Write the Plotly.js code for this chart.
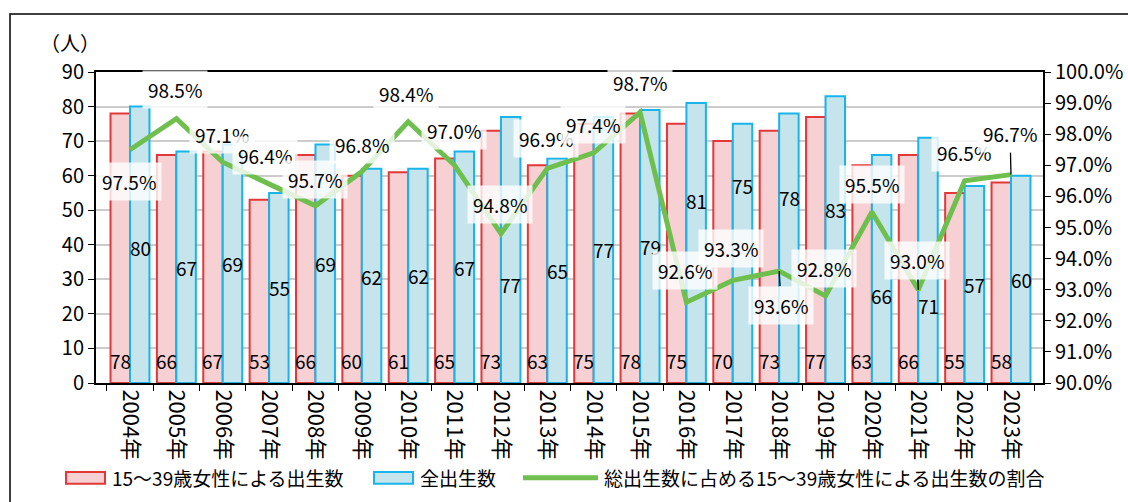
<!DOCTYPE html>
<html>
<head>
<meta charset="utf-8">
<script src="https://cdn.plot.ly/plotly-3.0.1.min.js"></script>
<style>
html,body{margin:0;padding:0;background:#fff;}
#chart{width:1128px;height:502px;}
</style>
</head>
<body>
<div id="chart"></div>
<script>
// ---- data ----
const years = ["2004年","2005年","2006年","2007年","2008年","2009年","2010年","2011年","2012年","2013年",
               "2014年","2015年","2016年","2017年","2018年","2019年","2020年","2021年","2022年","2023年"];
const birthsWomen15to39 = [78,66,67,53,66,60,61,65,73,63,75,78,75,70,73,77,63,66,55,58];
const birthsTotal = [80,67,69,55,69,62,62,67,77,65,77,79,81,75,78,83,66,71,57,60];
const sharePct = [97.5,98.5,97.1,96.4,95.7,96.8,98.4,97.0,94.8,96.9,97.4,98.7,92.6,93.3,93.6,92.8,95.5,93.0,96.5,96.7];

const seriesNames = ["15～39歳女性による出生数","全出生数","総出生数に占める15～39歳女性による出生数の割合"];
const yUnitLabel = "（人）";

// ---- label placement (layout only, pixels) ----
const pctLabelDy = [32,-29,-28,-28,-26,-27,-28,-35,-29,-30,-28,-30,-32,-32,34,-27,-27,-29,-28,-41];
const pctLabelDx = [-1,-1,-1,-4,0,0,-2,-1,-1,-1,-1,0,-1,-2,2,-2,0,-1,-1,-1];
const pctLeader  = [false,false,false,false,false,false,false,false,false,false,false,false,false,false,true,false,false,true,false,true];
const totalLabelShift = [-3,0,0,0,0,-1,0,0,-35,0,0,0,43,68,51,30,-27,-45,0,0];

const FONT = '"Noto Sans CJK JP", "Noto Sans", sans-serif';
const PINK_FILL = '#f6d0d2', PINK_LINE = '#e2383a';
const BLUE_FILL = '#c6e4ec', BLUE_LINE = '#18b4ea';
const GREEN = '#6fbf4f';
const BAR_HALF = 10;

const traces = [
  {
    type:'bar', name:seriesNames[0], x:years, y:birthsWomen15to39,
    marker:{color:PINK_FILL, line:{color:PINK_LINE, width:2}},
    hoverinfo:'skip', showlegend:false
  },
  {
    type:'bar', name:seriesNames[1], x:years, y:birthsTotal,
    marker:{color:BLUE_FILL, line:{color:BLUE_LINE, width:2}},
    hoverinfo:'skip', showlegend:false
  },
  {
    type:'scatter', mode:'lines', name:seriesNames[2], x:years, y:sharePct, yaxis:'y2',
    line:{color:GREEN, width:5}, hoverinfo:'skip', showlegend:false
  }
];

const annotations = [];

// bar value labels
birthsWomen15to39.forEach((v,i)=>{
  annotations.push({x:years[i], y:0, xref:'x', yref:'y', text:String(v), showarrow:false,
    xshift:-BAR_HALF, yshift:23, yanchor:'middle', xanchor:'center',
    font:{family:FONT, size:19, color:'#000'}});
});
birthsTotal.forEach((v,i)=>{
  annotations.push({x:years[i], y:v/2, xref:'x', yref:'y', text:String(v), showarrow:false,
    xshift:BAR_HALF, yshift:totalLabelShift[i], yanchor:'middle', xanchor:'center',
    font:{family:FONT, size:19, color:'#000'}});
});

// percentage labels
sharePct.forEach((v,i)=>{
  annotations.push({
    x:years[i], y:v, xref:'x', yref:'y2',
    text:v.toFixed(1)+'%', showarrow:true, arrowhead:0, arrowwidth:1.3,
    arrowcolor: pctLeader[i] ? '#000' : 'rgba(0,0,0,0)',
    ax:pctLabelDx[i], ay:pctLabelDy[i], standoff:0,
    bgcolor:'rgba(255,255,255,0.8)', borderpad:5,
    font:{family:FONT, size:19, color:'#000'}
  });
});

annotations.push({
  xref:'paper', yref:'paper', x:-0.0275, y:1.096, xanchor:'center', yanchor:'middle',
  text:yUnitLabel, showarrow:false, font:{family:FONT, size:20, color:'#000'}
});

// custom legend
const legY = -0.305;
function px2x(p){ return (p-96)/947; }
const shapes = [
  {type:'rect', xref:'paper', yref:'paper', x0:-0.0908, x1:1.2, y0:-0.39, y1:1.1865,
   line:{color:'#000', width:1.5}, fillcolor:'rgba(0,0,0,0)', layer:'below'},
  {type:'rect', xref:'paper', yref:'paper', x0:px2x(66), x1:px2x(105), y0:legY-0.019, y1:legY+0.019,
   line:{color:PINK_LINE, width:2}, fillcolor:PINK_FILL},
  {type:'rect', xref:'paper', yref:'paper', x0:px2x(374), x1:px2x(413), y0:legY-0.019, y1:legY+0.019,
   line:{color:BLUE_LINE, width:2}, fillcolor:BLUE_FILL},
  {type:'line', xref:'paper', yref:'paper', x0:px2x(523), x1:px2x(598), y0:legY, y1:legY,
   line:{color:GREEN, width:5}}
];
[[110,seriesNames[0]],[418,seriesNames[1]],[602,seriesNames[2]]].forEach(([p,t])=>{
  annotations.push({xref:'paper', yref:'paper', x:px2x(p), y:legY, xanchor:'left', yanchor:'middle',
    text:t, showarrow:false, font:{family:FONT, size:19, color:'#000'}});
});

const layout = {
  width:1128, height:502,
  margin:{l:96, r:85, t:72, b:119},
  paper_bgcolor:'#fff', plot_bgcolor:'#fff',
  barmode:'group', bargap:0.16, bargroupgap:0,
  font:{family:FONT, color:'#000'},
  showlegend:false,
  xaxis:{
    type:'category', tickangle:90, tickson:'boundaries', ticks:'outside', ticklen:6, tickcolor:'#000',
    showline:true, linecolor:'#000', linewidth:2, mirror:true, showgrid:false,
    tickfont:{family:FONT, size:22, color:'#000'}, fixedrange:true
  },
  yaxis:{
    range:[0,90], dtick:10, ticks:'outside', ticklen:6, tickcolor:'#000',
    showline:true, linecolor:'#000', linewidth:2, showgrid:true, gridcolor:'#cccccc', gridwidth:2,
    zeroline:false, tickfont:{family:FONT, size:20, color:'#000'}, fixedrange:true
  },
  yaxis2:{
    overlaying:'y', side:'right', range:[90,100], dtick:1, tickformat:'.1f', ticksuffix:'%',
    ticks:'outside', ticklen:6, tickcolor:'#000', showline:true, linecolor:'#000', linewidth:2,
    showgrid:false, zeroline:false, tickfont:{family:FONT, size:20, color:'#000'}, fixedrange:true
  },
  annotations:annotations,
  shapes:shapes
};

Plotly.newPlot('chart', traces, layout, {displayModeBar:false, staticPlot:true});
</script>
</body>
</html>
